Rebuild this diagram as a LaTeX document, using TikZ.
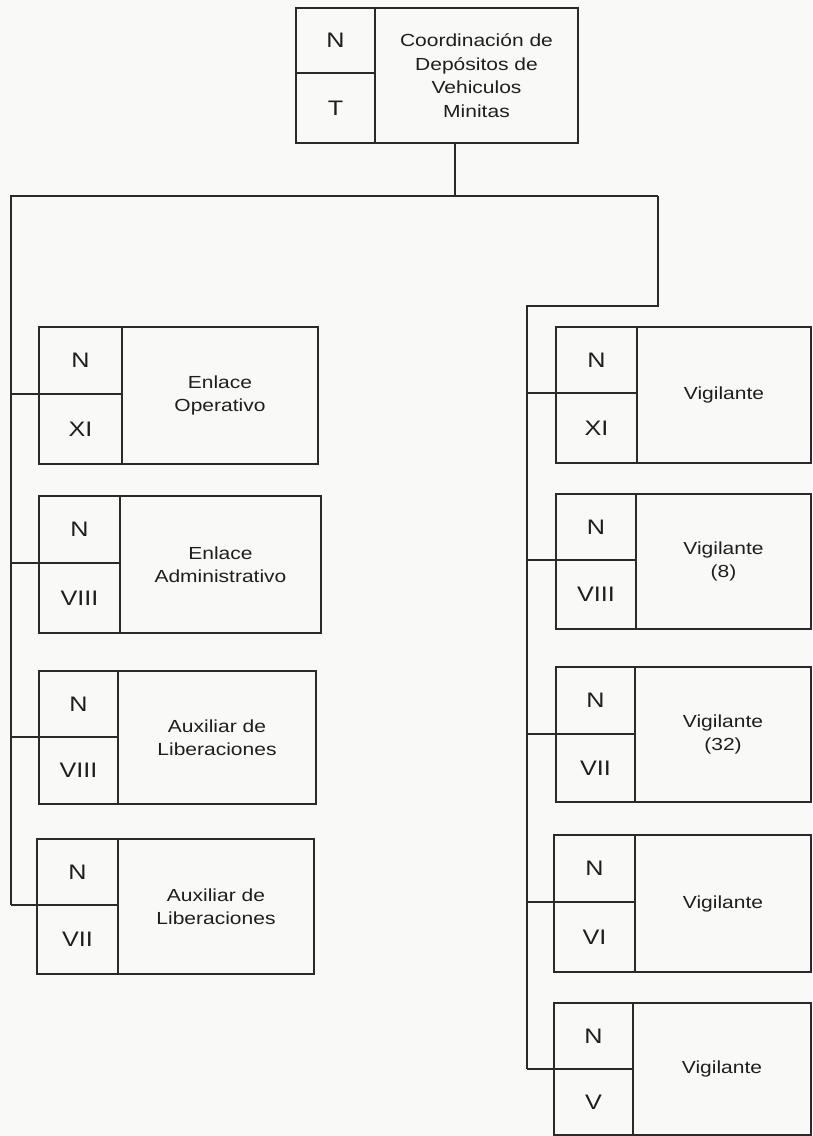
\documentclass[tikz,border=0pt]{standalone}
\usepackage{fontspec}
\setmainfont[FakeStretch=1.2]{Liberation Sans}
\definecolor{linec}{HTML}{2A2A2A}
\definecolor{bgc}{HTML}{F9FAF8}
\definecolor{txtc}{HTML}{1E1E1E}
\tikzset{
  cell/.style={draw=linec, line width=1.3pt, inner sep=0pt, outer sep=0pt, anchor=north west, align=center, text=txtc},
  lvl/.style={font=\fontsize{21}{25}\selectfont},
  ttl/.style={font=\fontsize{17.5}{23.5}\selectfont},
  wire/.style={draw=linec, line width=1.3pt}
}
\newcommand\orgbox[9]{%
  \pgfmathsetmacro\obWa{#6-#2}\pgfmathsetmacro\obWb{#4-#6}%
  \pgfmathsetmacro\obHa{#7-#3}\pgfmathsetmacro\obHb{#5-#7}\pgfmathsetmacro\obHc{#5-#3}%
  \node[cell,ttl,minimum width=\obWb pt,minimum height=\obHc pt] (#1t) at (#6,#3) {#9};
  \node[cell,lvl,minimum width=\obWa pt,minimum height=\obHa pt] (#1n) at (#2,#3) {N};
  \node[cell,lvl,minimum width=\obWa pt,minimum height=\obHb pt] (#1l) at (#2,#7) {#8};
}
\begin{document}
\begin{tikzpicture}[x=1pt,y=-1pt]
\fill[bgc] (0,0) rectangle (812,1136);
\useasboundingbox (0,0) rectangle (812,1136);

% top box
\orgbox{T}{296}{8}{578}{143}{375}{73}{T}{Coordinación de\\Depósitos de\\Vehiculos\\Minitas}

% left column
\orgbox{La}{39}{327}{318}{464}{122}{394}{XI}{Enlace\\Operativo}
\orgbox{Lb}{39}{496}{321}{633}{120}{563}{VIII}{Enlace\\Administrativo}
\orgbox{Lc}{39}{671}{316}{804}{118}{737}{VIII}{Auxiliar de\\Liberaciones}
\orgbox{Ld}{37}{839}{314}{974}{118}{905}{VII}{Auxiliar de\\Liberaciones}

% right column
\orgbox{Ra}{556}{327}{811}{463}{637}{393}{XI}{Vigilante}
\orgbox{Rb}{556}{494}{811}{629}{636}{560}{VIII}{Vigilante\\(8)}
\orgbox{Rc}{556}{667}{811}{802}{635}{734}{VII}{Vigilante\\(32)}
\orgbox{Rd}{554}{835}{811}{972}{635}{902}{VI}{Vigilante}
\orgbox{Re}{554}{1003}{811}{1135}{633}{1069}{V}{Vigilante}

% connectors
\coordinate (tdrop) at (455,196);
\coordinate (ltop) at (11,196);
\coordinate (rtop) at (658,196);
\coordinate (rbend) at (658,306);
\coordinate (rtrunk) at (527,306);

\draw[wire] (tdrop |- Tt.south) -- (tdrop);
\draw[wire] (rtop) -- (ltop) -- (ltop |- Ldn.south west);
\draw[wire] (rtop) -- (rbend) -- (rtrunk) -- (rtrunk |- Ren.south west);

\foreach \b in {La,Lb,Lc,Ld}{
  \draw[wire] (ltop |- \b n.south west) -- (\b n.south west);
}
\foreach \b in {Ra,Rb,Rc,Rd,Re}{
  \draw[wire] (rtrunk |- \b n.south west) -- (\b n.south west);
}
\end{tikzpicture}
\end{document}
